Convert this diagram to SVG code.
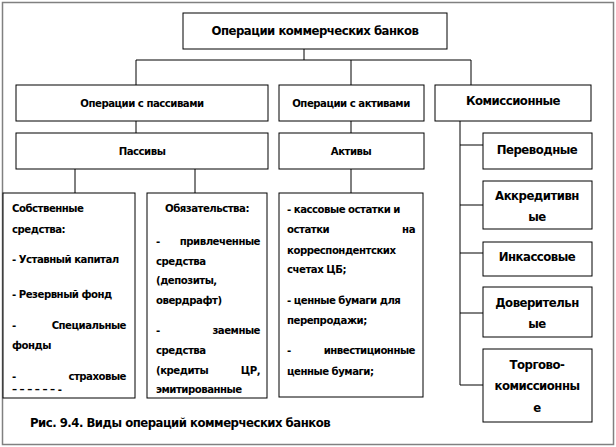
<svg xmlns="http://www.w3.org/2000/svg" width="616" height="447" viewBox="0 0 616 447">
<style>
rect.n{fill:#fff;stroke:#000;stroke-width:1}
text{font-family:"DejaVu Sans Condensed","Liberation Sans",sans-serif;font-weight:bold;font-size:11.3px;fill:#000;letter-spacing:-0.5px}
.c{text-anchor:middle}
.r{text-anchor:end}
.big{font-size:13px}
#conn line{stroke:#000;stroke-width:1}
</style>
<rect x="2.5" y="2.5" width="611" height="442" fill="#fff" stroke="#808080" stroke-width="1.5"/>
<g id="conn">
<line x1="304" y1="49" x2="304" y2="60"/>
<line x1="136" y1="60" x2="471" y2="60"/>
<line x1="136" y1="60" x2="136" y2="85"/>
<line x1="351" y1="60" x2="351" y2="85"/>
<line x1="471" y1="60" x2="471" y2="85"/>
<line x1="136" y1="121" x2="136" y2="133"/>
<line x1="351" y1="121" x2="351" y2="133"/>
<line x1="75" y1="169" x2="75" y2="193"/>
<line x1="195" y1="169" x2="195" y2="193"/>
<line x1="351" y1="169" x2="351" y2="193"/>
<line x1="460" y1="121" x2="460" y2="385"/>
<line x1="460" y1="145" x2="483" y2="145"/>
<line x1="460" y1="205" x2="483" y2="205"/>
<line x1="460" y1="253" x2="483" y2="253"/>
<line x1="460" y1="313" x2="483" y2="313"/>
<line x1="460" y1="385" x2="483" y2="385"/>
</g>
<g id="root"><rect class="n" x="183" y="13" width="264" height="36"/><text class="c big" x="315" y="35">Операции коммерческих банков</text></g>
<g id="opPass"><rect class="n" x="16" y="85" width="252" height="36"/><text class="c" x="142" y="107">Операции с пассивами</text></g>
<g id="opAct"><rect class="n" x="279" y="85" width="145" height="36"/><text class="c" x="351" y="107">Операции с активами</text></g>
<g id="komis"><rect class="n" x="435" y="85" width="156" height="36"/><text class="c big" x="513" y="105">Комиссионные</text></g>
<g id="passivy"><rect class="n" x="16" y="133" width="252" height="36"/><text class="c" x="142" y="155">Пассивы</text></g>
<g id="aktivy"><rect class="n" x="279" y="133" width="145" height="36"/><text class="c" x="351" y="155">Активы</text></g>
<g id="perev"><rect class="n" x="483" y="133" width="109" height="36"/><text class="c big" x="537" y="154">Переводные</text></g>
<g id="akkr"><rect class="n" x="483" y="181" width="109" height="48"/><text class="c big" x="537" y="200">Аккредитивн</text><text class="c big" x="537" y="221">ые</text></g>
<g id="inkas"><rect class="n" x="483" y="242" width="109" height="34"/><text class="c big" x="537" y="261">Инкассовые</text></g>
<g id="dover"><rect class="n" x="483" y="287" width="109" height="50"/><text class="c big" x="537" y="307">Доверительн</text><text class="c big" x="537" y="328">ые</text></g>
<g id="torg"><rect class="n" x="483" y="349" width="109" height="73"/><text class="c big" x="537" y="369">Торгово-</text><text class="c big" x="537" y="390">комиссионны</text><text class="c big" x="537" y="412">е</text></g>
<g id="sobst"><rect class="n" x="3" y="193" width="132" height="205"/>
<text x="12" y="212">Собственные</text>
<text x="12" y="233">средства:</text>
<text x="12" y="263">- Уставный капитал</text>
<text x="12" y="298">- Резервный фонд</text>
<text x="12" y="329">-</text><text class="r" x="126" y="329">Специальные</text>
<text x="12" y="349">фонды</text>
<text x="12" y="380">-</text><text class="r" x="126" y="380">страховые</text>
<text x="12" y="393">– – – – – – -</text>
</g>
<g id="obyaz"><rect class="n" x="147" y="193" width="120" height="205"/>
<text class="c" x="207" y="212">Обязательства:</text>
<text x="156" y="245">-</text><text class="r" x="260" y="245">привлеченные</text>
<text x="156" y="265">средства</text>
<text x="156" y="284">(депозиты,</text>
<text x="156" y="304">овердрафт)</text>
<text x="156" y="334">-</text><text class="r" x="260" y="334">заемные</text>
<text x="156" y="354">средства</text>
<text x="156" y="374">(кредиты</text><text class="r" x="260" y="374">ЦР,</text>
<text x="156" y="393">эмитированные</text>
</g>
<g id="aktList"><rect class="n" x="279" y="193" width="144" height="204"/>
<text x="287" y="213">- кассовые остатки и</text>
<text x="287" y="233">остатки</text><text class="r" x="415" y="233">на</text>
<text x="287" y="254">корреспондентских</text>
<text x="287" y="273">счетах ЦБ;</text>
<text x="287" y="304">- ценные бумаги для</text>
<text x="287" y="324">перепродажи;</text>
<text x="287" y="354">-</text><text class="r" x="415" y="354">инвестиционные</text>
<text x="287" y="375">ценные бумаги;</text>
</g>
<text class="big" x="30" y="427">Рис. 9.4. Виды операций коммерческих банков</text>
</svg>
